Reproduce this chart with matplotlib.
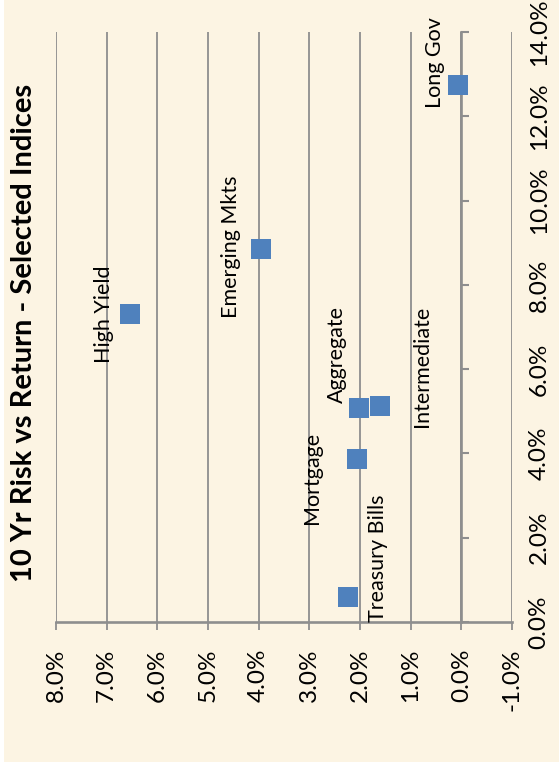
import matplotlib
matplotlib.use("Agg")
import matplotlib.pyplot as plt
from matplotlib.patches import Rectangle
from matplotlib.ticker import PercentFormatter, MultipleLocator

plt.rcParams['font.family'] = ['Lato', 'DejaVu Sans']
plt.rcParams['axes.unicode_minus'] = False

# chart values (percent)
names = ["Long Gov", "Emerging Mkts", "High Yield", "Aggregate",
         "Intermediate", "Mortgage", "Treasury Bills"]
returns = [0.06, 3.95, 6.53, 2.01, 1.60, 2.05, 2.23]
risks = [12.74, 8.84, 7.30, 5.07, 5.12, 3.86, 0.59]
# where each label sits relative to its marker, in pixels
label_offsets = [(-23.5, 23), (-30, 3), (-26.5, 0), (-22.5, 54),
                 (42, 40), (-45, -19), (30, 39)]

cream = '#FCF4E3'
grid_col = '#8E8E8E'

fig = plt.figure(figsize=(5.59, 7.72), dpi=100, facecolor='white')
fig.patches.append(Rectangle((4 / 559, 10 / 772), 1, 1, transform=fig.transFigure,
                             facecolor=cream, edgecolor='none', zorder=-5))
ax = fig.add_axes([56 / 559, 150 / 772, 456 / 559, 590 / 772])
ax.set_facecolor(cream)

ax.scatter(returns, risks, marker='s', s=190, color='#4F81BD', zorder=3, linewidths=0)
for name, x, y, off in zip(names, returns, risks, label_offsets):
    ax.annotate(name, (x, y), xytext=off, textcoords='offset pixels',
                rotation=90, ha='center', va='center', fontsize=15.5, color='black')

ax.set_xlim(8, -1)
ax.set_ylim(0, 14)
ax.xaxis.set_major_locator(MultipleLocator(1))
ax.yaxis.set_major_locator(MultipleLocator(2))
ax.xaxis.set_major_formatter(PercentFormatter(decimals=1))
ax.yaxis.set_major_formatter(PercentFormatter(decimals=1))

ax.grid(axis='x', color=grid_col, linewidth=1.3)
ax.set_axisbelow(True)

for s in ['top', 'right']:
    ax.spines[s].set_visible(False)
ax.spines['left'].set_position(('data', 0))
ax.spines['left'].set_color(grid_col)
ax.spines['left'].set_linewidth(1.9)
ax.spines['bottom'].set_color(grid_col)
ax.spines['bottom'].set_linewidth(1.9)

ax.tick_params(axis='x', direction='out', length=6, width=1.3, color=grid_col,
               labelsize=17.5, labelrotation=90, pad=13)
ax.tick_params(axis='y', left=True, right=False, labelleft=False, labelright=True,
               direction='in', length=6, width=1.5, color=grid_col,
               labelsize=17.5, labelrotation=90, pad=12)
for lbl in ax.get_yticklabels():
    lbl.set_va('center')

fig.text(24 / 559, 1 - 333 / 772, "10 Yr Risk vs Return - Selected Indices",
         rotation=90, ha='center', va='center', fontsize=21, fontweight='bold')

fig.savefig("out.png", dpi=100, facecolor=fig.get_facecolor())
